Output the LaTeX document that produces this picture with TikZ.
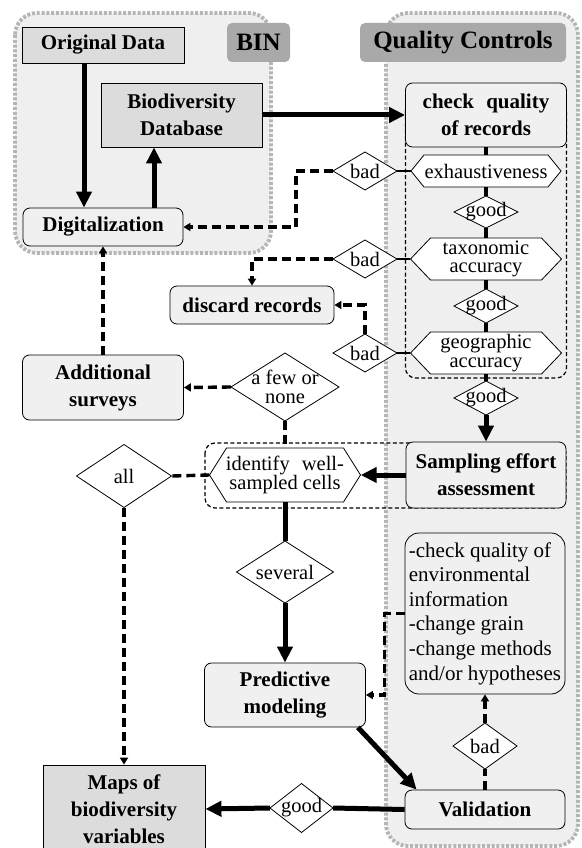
\documentclass[tikz,border=0pt]{standalone}
\usepackage{fontspec}
\setmainfont{Liberation Serif}
\usetikzlibrary{arrows.meta,calc}
\definecolor{contfill}{HTML}{EFEFEF}
\definecolor{contline}{HTML}{B5B5B5}
\definecolor{labfill}{HTML}{A9A9A9}
\definecolor{darkfill}{HTML}{DCDCDC}
\definecolor{boxfill}{HTML}{F0F0F0}
\newcommand{\hexa}[7]{%
  \draw[fill=white, line width=0.8pt] (#2-#4,#3) -- (#2-#4+#6,#3-#5) -- (#2+#4-#6,#3-#5) -- (#2+#4,#3) -- (#2+#4-#6,#3+#5) -- (#2-#4+#6,#3+#5) -- cycle;
  \node[txt, minimum width=2*#4, minimum height=2*#5] (#1) at (#2,#3) {#7};}
\newcommand{\dia}[6]{%
  \draw[fill=white, line width=0.8pt] (#2-#4,#3) -- (#2,#3-#5) -- (#2+#4,#3) -- (#2,#3+#5) -- cycle;
  \node[txt, minimum width=2*#4, minimum height=2*#5] (#1) at (#2,#3) {#6};}
\begin{document}
\begin{tikzpicture}[x=1pt,y=-1pt,
  cont/.style={draw=contline, line width=3.8pt, dash pattern=on 3pt off 1.8pt, fill=contfill, rounded corners=22pt},
  lab/.style={fill=labfill, rounded corners=5pt, inner sep=0pt, font=\bfseries\fontsize{25}{30}\selectfont},
  bx/.style={draw, line width=0.8pt, inner sep=0pt, align=center, font=\bfseries\fontsize{21}{27}\selectfont},
  dbox/.style={bx, fill=darkfill},
  rbox/.style={bx, fill=boxfill, rounded corners=7pt},
  txt/.style={inner sep=0pt, align=center, font=\fontsize{20.5}{18.5}\selectfont},
  thk/.style={line width=5pt, -{Triangle[length=16pt,width=15pt]}},
  thkl/.style={line width=5pt},
  conn/.style={line width=4pt},
  dsh/.style={line width=3.4pt, dash pattern=on 9pt off 5pt},
  dsha/.style={dsh, -{Triangle[length=7pt,width=8pt]}},
  grp/.style={line width=1.2pt, dash pattern=on 4pt off 2.5pt, rounded corners=10pt}]
\useasboundingbox (0,0) rectangle (581,848);
% containers
\path[cont] (15,13) rectangle (271,253);
\path[cont] (386,13) rectangle (578,846);
\node[lab, minimum width=63pt, minimum height=39pt] (binlab) at (258.5,42.5) {BIN};
\node[lab, minimum width=206pt, minimum height=39pt] (qclab) at (463,42.5) {Quality Controls};
% group outlines
\draw[grp] (405.5,100) rectangle (566.5,378);
\draw[grp] (205,443) rectangle (566,508);
% boxes
\node[dbox, minimum width=162pt, minimum height=36pt] (od) at (103,45) {Original Data};
\node[dbox, minimum width=161pt, minimum height=64pt] (bdb) at (181.5,115) {Biodiversity\\Database};
\node[rbox, minimum width=160pt, minimum height=38pt] (dig) at (103,227) {Digitalization};
\node[rbox, minimum width=161pt, minimum height=64pt] (cq) at (486,115) {check\hspace{7pt} quality\\of records};
\node[rbox, minimum width=164pt, minimum height=38pt] (disc) at (252,305) {discard records};
\node[rbox, minimum width=161pt, minimum height=65pt] (add) at (103,387.5) {Additional\\surveys};
\node[rbox, minimum width=160pt, minimum height=66pt] (samp) at (486,475) {Sampling effort\\assessment};
\node[rbox, minimum width=161pt, minimum height=64pt] (pred) at (285,695) {Predictive\\modeling};
\node[rbox, minimum width=160pt, minimum height=39pt] (val) at (485,809.5) {Validation};
\node[dbox, minimum width=162pt, minimum height=88pt] (maps) at (124,809) {Maps of\\biodiversity\\variables};
\node[rbox, rounded corners=14pt, minimum width=160pt, minimum height=161pt, align=left, font=\fontsize{21}{24.6}\selectfont] (sug) at (485,613.5) {-check quality of\\environmental\\information\\-change grain\\-change methods\\and/or hypotheses};
% hexagons
\hexa{exh}{486}{171}{75}{16}{13}{exhaustiveness}
\hexa{tax}{486}{259}{75.5}{21}{20}{taxonomic\\accuracy}
\hexa{geo}{486}{353}{75.5}{21}{20}{geographic\\accuracy}
\hexa{iden}{285}{475}{75.5}{27}{17}{identify\hspace{7pt} well-\\sampled cells}
% diamonds
\dia{bad1}{365}{171}{32}{19}{bad}
\dia{good1}{486}{212}{32}{16}{good}
\dia{bad2}{365}{259}{32}{19}{bad}
\dia{good2}{486}{306}{32}{17}{good}
\dia{bad3}{365}{353}{32}{19}{bad}
\dia{good3}{486}{398}{32}{17}{good}
\dia{few}{285}{387}{54}{34}{a few or\\none}
\dia{all}{124}{476}{47.5}{31.5}{all}
\dia{sev}{285}{572}{48.5}{31}{several}
\dia{bad4}{485}{746}{32}{23}{bad}
\dia{good4}{301.5}{808}{31.5}{24.5}{good}
% connectors
\draw[thk] ([xshift=-19pt]od.south) -- ([xshift=-19pt]dig.north);
\draw[thk] ([xshift=51pt]dig.north) -- ([xshift=-27.5pt]bdb.south);
\draw[thk] (bdb.east) -- (cq.west);
\draw[conn] (cq.south) -- (exh.north);
\draw[conn] (exh.south) -- (good1.north);
\draw[conn] (good1.south) -- (tax.north);
\draw[conn] (tax.south) -- (good2.north);
\draw[conn] (good2.south) -- (geo.north);
\draw[conn] (geo.south) -- (good3.north);
\draw[thk] (good3.south) -- (samp.north);
\draw[line width=2.5pt] (bad1.east) -- (exh.west);
\draw[line width=2.5pt] (bad2.east) -- (tax.west);
\draw[line width=2.5pt] (bad3.east) -- (geo.west);
\draw[dsha] (bad1.west) -- ++(-37,0) |- (dig.east);
\draw[dsha] (bad2.west) -| (disc.north);
\draw[dsha] (bad3.north) |- (disc.east);
\draw[dsha] (few.west) -- (add.east);
\draw[dsha] (add.north) -- (dig.south);
\draw[dsh] (few.south) -- (iden.north);
\draw[thk] (samp.west) -- (iden.east);
\draw[dsh] (iden.west) -- (all.east);
\draw[dsha] (all.south) -- (maps.north);
\draw[thkl] (iden.south) -- (sev.north);
\draw[thk] (sev.south) -- (pred.north);
\draw[thk] ([xshift=-8pt]pred.south east) -- ([xshift=12pt]val.north west);
\draw[dsh] (val.north) -- (bad4.south);
\draw[dsha] (bad4.north) -- (sug.south);
\draw[dsha] (sug.west) -- ++(-20,0) |- (pred.east);
\draw[thkl] (val.west) -- (good4.east);
\draw[thk] (good4.west) -- (maps.east);
\end{tikzpicture}
\end{document}
